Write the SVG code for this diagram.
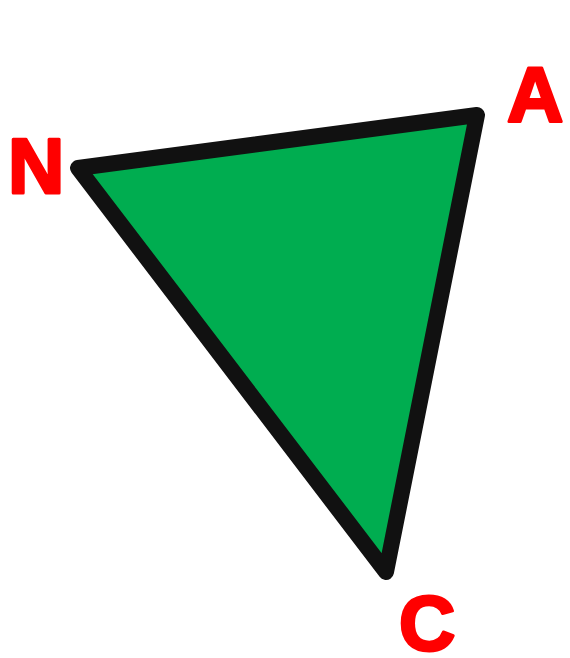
<svg xmlns="http://www.w3.org/2000/svg" width="570" height="658" viewBox="0 0 570 658">
<style>
.lbl{font-family:"Liberation Sans",Arial,sans-serif;font-weight:bold;font-size:78px;fill:#ff0000;stroke:#ff0000;stroke-width:3px;stroke-linejoin:round}
.tri{fill:#00ad50;stroke:#111111;stroke-width:16;stroke-linejoin:round}
</style>
<rect width="570" height="658" fill="#ffffff"/>
<g id="triangle"><polygon class="tri" points="78,168 477,115 386,572"/></g>
<g id="label-N"><text class="lbl" x="8" y="193">N</text></g>
<g id="label-A"><text class="lbl" x="507" y="122">A</text></g>
<g id="label-C"><text class="lbl" x="399" y="650">C</text></g>
</svg>
